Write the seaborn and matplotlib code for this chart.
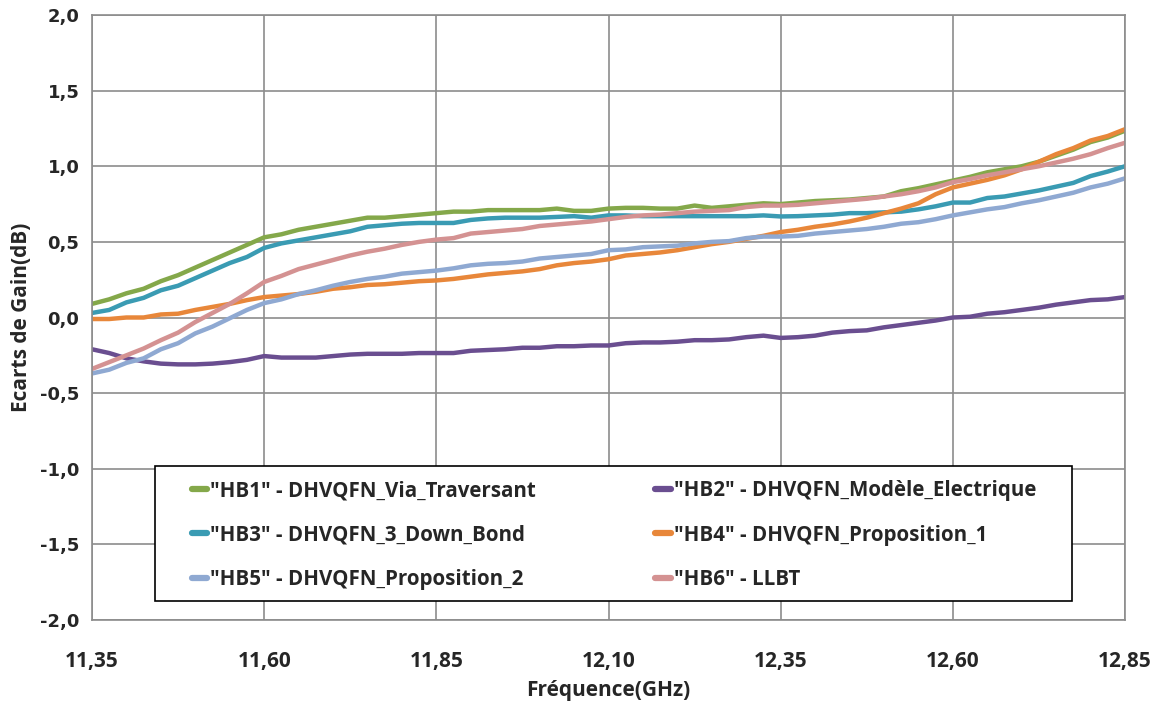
import numpy as np
import pandas as pd
import seaborn as sns
import matplotlib
matplotlib.use("Agg")
import matplotlib.pyplot as plt
from matplotlib import font_manager
from matplotlib.patches import Rectangle

# frequency grid (GHz), 0.025 GHz step
freq = np.round(np.arange(11.35, 12.8501, 0.025), 3)

hb1 = [0.09, 0.12, 0.16, 0.19, 0.24, 0.28, 0.33, 0.38, 0.43, 0.48, 0.53,
       0.55, 0.58, 0.60, 0.62, 0.64, 0.66, 0.66, 0.67, 0.68, 0.69,
       0.70, 0.70, 0.71, 0.71, 0.71, 0.71, 0.72, 0.705, 0.705, 0.72,
       0.725, 0.725, 0.72, 0.72, 0.74, 0.725, 0.735, 0.745, 0.755, 0.75,
       0.76, 0.77, 0.775, 0.78, 0.79, 0.80, 0.835, 0.855, 0.88, 0.905,
       0.93, 0.96, 0.98, 1.00, 1.03, 1.07, 1.11, 1.16, 1.19, 1.235]
hb2 = [-0.21, -0.235, -0.27, -0.29, -0.305, -0.31, -0.31, -0.305, -0.295, -0.28, -0.255,
       -0.265, -0.265, -0.265, -0.255, -0.245, -0.24, -0.24, -0.24, -0.235, -0.235,
       -0.235, -0.22, -0.215, -0.21, -0.20, -0.20, -0.19, -0.19, -0.185, -0.185,
       -0.17, -0.165, -0.165, -0.16, -0.15, -0.15, -0.145, -0.13, -0.12, -0.135,
       -0.13, -0.12, -0.10, -0.09, -0.085, -0.065, -0.05, -0.035, -0.02, 0.0,
       0.005, 0.025, 0.035, 0.05, 0.065, 0.085, 0.10, 0.115, 0.12, 0.135]
hb3 = [0.03, 0.05, 0.10, 0.13, 0.18, 0.21, 0.26, 0.31, 0.36, 0.40, 0.46,
       0.49, 0.51, 0.53, 0.55, 0.57, 0.60, 0.61, 0.62, 0.625, 0.625,
       0.625, 0.645, 0.655, 0.66, 0.66, 0.66, 0.665, 0.67, 0.66, 0.675,
       0.675, 0.67, 0.67, 0.67, 0.67, 0.67, 0.67, 0.67, 0.675, 0.668,
       0.67, 0.675, 0.68, 0.69, 0.69, 0.695, 0.70, 0.715, 0.735, 0.76,
       0.76, 0.79, 0.80, 0.82, 0.84, 0.865, 0.89, 0.935, 0.965, 1.0]
hb4 = [-0.01, -0.01, 0.0, 0.0, 0.02, 0.025, 0.05, 0.07, 0.09, 0.115, 0.135,
       0.145, 0.155, 0.17, 0.19, 0.20, 0.215, 0.22, 0.23, 0.24, 0.245,
       0.255, 0.27, 0.285, 0.295, 0.305, 0.32, 0.345, 0.36, 0.37, 0.385,
       0.41, 0.42, 0.43, 0.445, 0.465, 0.485, 0.50, 0.52, 0.54, 0.565,
       0.58, 0.60, 0.615, 0.635, 0.66, 0.69, 0.72, 0.755, 0.815, 0.86,
       0.885, 0.91, 0.94, 0.98, 1.03, 1.08, 1.12, 1.17, 1.20, 1.245]
hb5 = [-0.37, -0.345, -0.30, -0.27, -0.21, -0.17, -0.105, -0.06, -0.005, 0.05, 0.095,
       0.12, 0.155, 0.18, 0.21, 0.235, 0.255, 0.27, 0.29, 0.30, 0.31,
       0.325, 0.345, 0.355, 0.36, 0.37, 0.39, 0.40, 0.41, 0.42, 0.445,
       0.45, 0.465, 0.47, 0.475, 0.49, 0.50, 0.505, 0.525, 0.535, 0.535,
       0.54, 0.555, 0.565, 0.575, 0.585, 0.60, 0.62, 0.63, 0.65, 0.675,
       0.695, 0.715, 0.73, 0.755, 0.775, 0.80, 0.825, 0.86, 0.885, 0.92]
hb6 = [-0.34, -0.295, -0.25, -0.205, -0.15, -0.10, -0.03, 0.03, 0.09, 0.16, 0.235,
       0.275, 0.32, 0.35, 0.38, 0.41, 0.435, 0.455, 0.48, 0.50, 0.515,
       0.525, 0.555, 0.565, 0.575, 0.585, 0.605, 0.615, 0.625, 0.635, 0.65,
       0.665, 0.675, 0.68, 0.69, 0.70, 0.705, 0.71, 0.73, 0.74, 0.74,
       0.745, 0.755, 0.765, 0.775, 0.785, 0.80, 0.815, 0.835, 0.86, 0.895,
       0.915, 0.94, 0.96, 0.98, 1.00, 1.025, 1.05, 1.08, 1.12, 1.155]

labels = ['"HB1" - DHVQFN_Via_Traversant',
          '"HB2" - DHVQFN_Modèle_Electrique',
          '"HB3" - DHVQFN_3_Down_Bond',
          '"HB4" - DHVQFN_Proposition_1',
          '"HB5" - DHVQFN_Proposition_2',
          '"HB6" - LLBT']
colors = ['#84A84A', '#6A4E90', '#3A9BB3', '#E8873A', '#8FA9D2', '#D49292']

x_ticks = [11.35, 11.60, 11.85, 12.10, 12.35, 12.60, 12.85]
x_ticklabels = ['11,35', '11,60', '11,85', '12,10', '12,35', '12,60', '12,85']
y_ticks = [-2.0, -1.5, -1.0, -0.5, 0.0, 0.5, 1.0, 1.5, 2.0]
y_ticklabels = ['-2,0', '-1,5', '-1,0', '-0,5', '0,0', '0,5', '1,0', '1,5', '2,0']

series = [hb1, hb2, hb3, hb4, hb5, hb6]
df = pd.concat([pd.DataFrame({'freq': freq, 'gain': s, 'serie': lab})
                for s, lab in zip(series, labels)], ignore_index=True)

sns.set_style("white")

installed = {f.name for f in font_manager.fontManager.ttflist}
narrow = next((f for f in ['Liberation Sans Narrow', 'Open Sans', 'DejaVu Sans'] if f in installed), 'DejaVu Sans')
plt.rcParams['font.family'] = [narrow, 'DejaVu Sans']

W, H = 1158, 706
fig = plt.figure(figsize=(W / 100, H / 100), dpi=100)
ax = fig.add_axes([92 / W, 1 - 620 / H, (1125 - 92) / W, (620 - 15) / H])

sns.lineplot(data=df, x='freq', y='gain', hue='serie', hue_order=labels,
             palette=dict(zip(labels, colors)), linewidth=3.2, ax=ax,
             legend=False)

ax.set_xlim(11.35, 12.85)
ax.set_ylim(-2.0, 2.0)
ax.set_xticks(x_ticks)
ax.set_xticklabels(x_ticklabels, fontsize=15, fontweight='bold', family=[narrow, 'DejaVu Sans'])
ax.set_yticks(y_ticks)
ax.set_yticklabels(y_ticklabels, fontsize=13, fontweight='bold', family='DejaVu Sans')
ax.tick_params(axis='both', length=0)
ax.tick_params(axis='x', pad=22)
ax.tick_params(axis='y', pad=9)
ax.grid(True, color='#8c8c8c', linewidth=1.2)
for sp in ax.spines.values():
    sp.set_color('#8c8c8c')
    sp.set_linewidth(1.2)

ax.set_xlabel('Fréquence(GHz)', fontsize=15, fontweight='bold', labelpad=6)
ax.set_ylabel('Ecarts de Gain(dB)', fontsize=15, fontweight='bold', labelpad=6)

# legend box
box = Rectangle((155 / W, 1 - 601 / H), (1072 - 155) / W, (601 - 466) / H,
                transform=fig.transFigure, facecolor='white', edgecolor='black',
                linewidth=1.2, zorder=5)
fig.add_artist(box)

# legend laid out row by row (HB1 HB2 / HB3 HB4 / HB5 HB6)
handles = [plt.Line2D([], [], color=c, linewidth=4.5) for c in colors]
order = [0, 2, 4, 1, 3, 5]
leg = fig.legend([handles[i] for i in order], [labels[i] for i in order],
                 ncol=2, loc='upper left',
                 bbox_to_anchor=(192 / W, 1 - 480 / H),
                 frameon=False,
                 prop={'family': [narrow, 'DejaVu Sans'], 'weight': 'bold', 'size': 14.8},
                 handlelength=0.75, handletextpad=0.15, labelspacing=1.15,
                 borderpad=0, borderaxespad=0, columnspacing=5.8)
leg.set_zorder(6)

fig.savefig('out.png', dpi=100)
